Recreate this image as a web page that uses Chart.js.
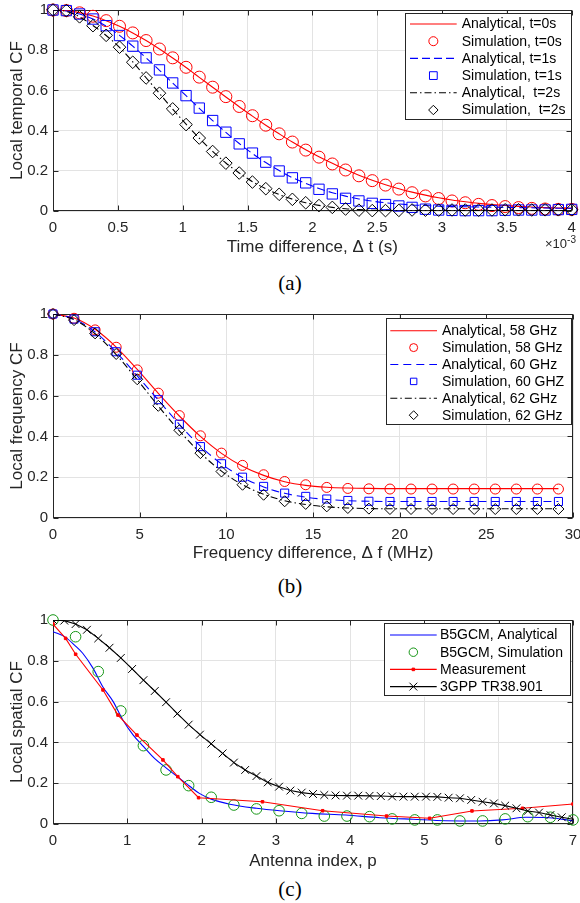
<!DOCTYPE html>
<html><head><meta charset="utf-8">
<script src="https://cdn.jsdelivr.net/npm/chart.js@4.4.1/dist/chart.umd.min.js"></script>
<style>
html,body{margin:0;padding:0;background:#fff;width:580px;height:903px;overflow:hidden;position:relative;}
canvas{position:absolute;left:0;display:block;}
.cap{position:absolute;left:0;width:580px;height:26px;line-height:26px;text-align:center;font-family:'Liberation Serif','Times New Roman',serif;font-size:21px;color:#000;}
.exp{position:absolute;font-family:'Liberation Sans',Arial,sans-serif;font-size:13px;color:#262626;white-space:nowrap;}
.exp sup{font-size:10px;vertical-align:5px;line-height:0;}
</style></head><body>
<canvas id="cA" width="580" height="262" style="top:0px"></canvas>
<canvas id="cB" width="580" height="269" style="top:300px"></canvas>
<canvas id="cC" width="580" height="275" style="top:600px"></canvas>
<div class="exp" style="left:545px;top:236px">×10<sup>-3</sup></div>
<div class="cap" style="top:270px">(a)</div>
<div class="cap" style="top:573px">(b)</div>
<div class="cap" style="top:876px">(c)</div>
<script>
// ---------- (a) Local temporal CF, x in units of 1e-3 s ----------
const timeX = [0,0.103,0.205,0.308,0.410,0.513,0.615,0.718,0.821,0.923,1.026,1.128,1.231,1.333,1.436,1.538,1.641,1.744,1.846,1.949,2.051,2.154,2.256,2.359,2.462,2.564,2.667,2.769,2.872,2.974,3.077,3.179,3.282,3.385,3.487,3.590,3.692,3.795,3.897,4.0];
const anaT0 = [1.0,0.997,0.987,0.970,0.947,0.919,0.886,0.848,0.806,0.761,0.714,0.665,0.616,0.567,0.519,0.472,0.427,0.384,0.343,0.305,0.270,0.237,0.206,0.178,0.153,0.131,0.111,0.094,0.079,0.066,0.055,0.046,0.038,0.032,0.027,0.023,0.020,0.017,0.015,0.014];
const simT0 = [1.0,0.997,0.986,0.969,0.947,0.919,0.886,0.848,0.806,0.762,0.715,0.666,0.616,0.569,0.520,0.474,0.427,0.384,0.343,0.303,0.268,0.234,0.204,0.175,0.151,0.129,0.109,0.091,0.075,0.062,0.050,0.041,0.033,0.027,0.022,0.017,0.013,0.010,0.008,0.008];
const anaT1 = [1.0,0.995,0.980,0.955,0.920,0.874,0.820,0.762,0.700,0.637,0.574,0.511,0.450,0.391,0.336,0.286,0.241,0.201,0.166,0.137,0.112,0.091,0.074,0.060,0.049,0.041,0.035,0.030,0.027,0.024,0.022,0.021,0.020,0.019,0.018,0.017,0.016,0.015,0.014,0.013];
const simT1 = [1.0,0.997,0.980,0.955,0.922,0.873,0.820,0.762,0.702,0.637,0.574,0.512,0.450,0.392,0.334,0.288,0.243,0.199,0.165,0.140,0.108,0.085,0.063,0.050,0.038,0.032,0.025,0.018,0.009,0.005,0.003,0.002,0.002,0.002,0.004,0.005,0.005,0.005,0.007,0.008];
const anaT2 = [1.0,0.993,0.966,0.923,0.873,0.814,0.742,0.663,0.585,0.507,0.432,0.362,0.297,0.239,0.189,0.146,0.111,0.082,0.059,0.041,0.028,0.018,0.011,0.007,0.004,0.003,0.002,0.002,0.002,0.002,0.002,0.002,0.002,0.002,0.002,0.002,0.002,0.002,0.002,0.002];
const simT2 = [1.0,0.997,0.966,0.922,0.874,0.815,0.740,0.662,0.586,0.508,0.430,0.363,0.296,0.238,0.189,0.144,0.111,0.083,0.058,0.041,0.027,0.018,0.010,0.004,0.002,0.002,0.003,0.005,0.004,0.004,0.005,0.005,0.004,0.005,0.006,0.006,0.005,0.006,0.006,0.006];
const labelsA = ['Analytical, t=0s','Simulation, t=0s','Analytical, t=1s','Simulation, t=1s','Analytical,  t=2s','Simulation,  t=2s'];

// ---------- (b) Local frequency CF, x in MHz ----------
const freqX = [0,1.215,2.43,3.645,4.86,6.075,7.29,8.505,9.72,10.935,12.15,13.365,14.58,15.795,17.01,18.225,19.44,20.655,21.87,23.085,24.3,25.515,26.73,27.945,29.16];
const ana58 = [1.0,0.980,0.925,0.838,0.728,0.611,0.500,0.400,0.317,0.254,0.209,0.178,0.160,0.151,0.147,0.145,0.144,0.144,0.144,0.144,0.144,0.144,0.144,0.144,0.144];
const sim58 = [1.0,0.979,0.922,0.837,0.726,0.612,0.502,0.403,0.318,0.258,0.212,0.179,0.163,0.150,0.145,0.143,0.142,0.142,0.142,0.142,0.142,0.142,0.142,0.142,0.142];
const ana60 = [1.0,0.976,0.912,0.813,0.697,0.578,0.459,0.352,0.265,0.199,0.152,0.121,0.102,0.091,0.085,0.082,0.081,0.081,0.081,0.081,0.081,0.081,0.081,0.081,0.081];
const sim60 = [1.0,0.975,0.913,0.815,0.700,0.580,0.460,0.350,0.266,0.200,0.155,0.122,0.106,0.093,0.086,0.082,0.081,0.081,0.081,0.081,0.081,0.081,0.081,0.081,0.081];
const ana62 = [1.0,0.972,0.903,0.801,0.678,0.549,0.427,0.319,0.230,0.163,0.116,0.085,0.066,0.055,0.049,0.046,0.045,0.045,0.045,0.045,0.045,0.045,0.045,0.045,0.045];
const sim62 = [1.0,0.970,0.905,0.804,0.680,0.550,0.430,0.318,0.228,0.163,0.114,0.082,0.069,0.057,0.049,0.046,0.044,0.044,0.044,0.044,0.044,0.044,0.044,0.044,0.044];
const labelsB = ['Analytical, 58 GHz','Simulation, 58 GHz','Analytical, 60 GHz','Simulation, 60 GHZ','Analytical, 62 GHz','Simulation, 62 GHz'];

// ---------- (c) Local spatial CF, x = antenna index p ----------
const anaCX = [0,0.17,0.29,0.40,0.54,0.67,0.81,0.94,1.08,1.22,1.37,1.53,1.71,1.84,1.97,2.13,2.38,2.74,3.05,3.49,3.94,4.40,4.85,5.29,5.74,6.05,6.37,6.68,7.0];
const anaCY = [0.943,0.915,0.877,0.837,0.763,0.673,0.600,0.510,0.436,0.379,0.320,0.273,0.222,0.185,0.150,0.122,0.097,0.077,0.065,0.052,0.044,0.031,0.023,0.016,0.015,0.020,0.033,0.031,0.016];
const simCX = [0,0.304,0.609,0.913,1.217,1.522,1.826,2.130,2.435,2.739,3.043,3.348,3.652,3.957,4.261,4.565,4.870,5.174,5.478,5.783,6.087,6.391,6.696,7.0];
const simCY = [1.0,0.918,0.747,0.554,0.384,0.265,0.188,0.131,0.093,0.074,0.065,0.052,0.039,0.039,0.036,0.025,0.020,0.020,0.015,0.015,0.025,0.036,0.033,0.020];
const measX = [0,0.17,0.305,0.673,0.875,1.13,1.48,1.68,1.96,2.82,3.63,4.49,5.07,5.64,6.32,7.0];
const measY = [0.98,0.91,0.832,0.657,0.534,0.436,0.314,0.232,0.129,0.109,0.065,0.039,0.028,0.064,0.077,0.098];
const gppX = [0,0.152,0.304,0.457,0.609,0.761,0.913,1.065,1.217,1.370,1.522,1.674,1.826,1.978,2.130,2.283,2.435,2.587,2.739,2.891,3.043,3.196,3.348,3.500,3.652,3.804,3.957,4.109,4.261,4.413,4.565,4.717,4.870,5.022,5.174,5.326,5.478,5.630,5.783,5.935,6.087,6.239,6.391,6.543,6.696,6.848,7.0];
const gppY = [1.0,0.997,0.98,0.952,0.91,0.864,0.814,0.76,0.705,0.652,0.597,0.541,0.487,0.438,0.393,0.346,0.301,0.265,0.235,0.204,0.183,0.164,0.154,0.147,0.142,0.14,0.139,0.139,0.138,0.137,0.135,0.134,0.134,0.134,0.133,0.129,0.126,0.118,0.109,0.101,0.09,0.077,0.064,0.056,0.044,0.033,0.023];
const labelsC = ['B5GCM, Analytical','B5GCM, Simulation','Measurement','3GPP TR38.901'];

// tick settings
const ticksA = {min:0, max:4, step:0.5};
const ticksB = {min:0, max:30, step:5};
const ticksC = {min:0, max:7, step:1};
const ticksY = {min:0, max:1, step:0.2};

// ---------- helpers ----------
const FONT = "'Liberation Sans', Arial, Helvetica, sans-serif";
const AX = '#262626';
Chart.defaults.font.family = FONT;
Chart.defaults.color = AX;

const pts = (xs, ys) => xs.map((x, i) => ({x, y: ys[i]}));
const fmt = v => String(Math.round(v * 1000) / 1000);

function lineDS(label, xs, ys, color, dash, extra) {
  return Object.assign({label, data: pts(xs, ys), borderColor: color, backgroundColor: color,
    borderWidth: 1.1, borderDash: dash, pointRadius: 0, fill: false, showLine: true,
    cubicInterpolationMode: 'monotone'}, extra || {});
}
function markDS(label, xs, ys, color, style, r, extra) {
  return Object.assign({label, data: pts(xs, ys), borderColor: color, backgroundColor: 'rgba(0,0,0,0)',
    pointStyle: style, pointRadius: r, pointBorderColor: color, pointBackgroundColor: 'rgba(0,0,0,0)',
    pointBorderWidth: 1, showLine: false, clip: false}, extra || {});
}

function drawMarker(ctx, style, x, y, r, stroke, fill) {
  ctx.save();
  ctx.strokeStyle = stroke; ctx.fillStyle = fill || 'rgba(0,0,0,0)'; ctx.lineWidth = 1; ctx.setLineDash([]);
  ctx.beginPath();
  if (style === 'circle') { ctx.arc(x, y, r, 0, Math.PI*2); }
  else if (style === 'rect') { const s = r*Math.SQRT1_2; ctx.rect(x-s, y-s, 2*s, 2*s); }
  else if (style === 'rectRot') { ctx.moveTo(x-r, y); ctx.lineTo(x, y-r); ctx.lineTo(x+r, y); ctx.lineTo(x, y+r); ctx.closePath(); }
  else if (style === 'crossRot') { const s = r*Math.SQRT1_2; ctx.moveTo(x-s, y-s); ctx.lineTo(x+s, y+s); ctx.moveTo(x-s, y+s); ctx.lineTo(x+s, y-s); }
  if (style !== 'crossRot') ctx.fill();
  ctx.stroke();
  ctx.restore();
}

const boxPlugin = {
  id: 'mbox',
  beforeDatasetsDraw(chart) {
    const {ctx, chartArea: a, scales} = chart;
    const L = Math.round(a.left) + 0.5, R = Math.round(a.right) - 0.5;
    const T = Math.round(a.top) + 0.5, B = Math.round(a.bottom) - 0.5;
    const tl = 5;
    ctx.save();
    ctx.strokeStyle = AX; ctx.lineWidth = 1; ctx.setLineDash([]);
    ctx.beginPath();
    scales.x.ticks.forEach(t => {
      const x = Math.round(scales.x.getPixelForValue(t.value)) + 0.5;
      ctx.moveTo(x, B); ctx.lineTo(x, B - tl);
      ctx.moveTo(x, T); ctx.lineTo(x, T + tl);
    });
    scales.y.ticks.forEach(t => {
      const y = Math.round(scales.y.getPixelForValue(t.value)) + 0.5;
      ctx.moveTo(L, y); ctx.lineTo(L + tl, y);
      ctx.moveTo(R, y); ctx.lineTo(R - tl, y);
    });
    ctx.stroke();
    ctx.strokeRect(L, T, R - L, B - T);
    ctx.restore();
  }
};

const legendPlugin = {
  id: 'mlegend',
  afterDraw(chart, args, o) {
    if (!o || !o.w) return;
    const {ctx} = chart;
    const ds = chart.data.datasets;
    ctx.save();
    ctx.fillStyle = '#fff';
    ctx.fillRect(o.x, o.y, o.w, o.h);
    ctx.strokeStyle = AX; ctx.lineWidth = 1; ctx.setLineDash([]);
    ctx.strokeRect(Math.round(o.x) + 0.5, Math.round(o.y) + 0.5, Math.round(o.w) - 1, Math.round(o.h) - 1);
    ds.forEach((d, i) => {
      const cy = o.y + o.first + o.row * i;
      const x0 = o.x + o.l0, x1 = o.x + o.l1;
      if (d.showLine !== false) {
        ctx.beginPath();
        ctx.setLineDash(d.borderDash || []);
        ctx.strokeStyle = d.borderColor; ctx.lineWidth = d.borderWidth;
        ctx.moveTo(x0, cy); ctx.lineTo(x1, cy); ctx.stroke();
        ctx.setLineDash([]);
      }
      if (d.pointRadius > 0) {
        const r = d.legendRadius || d.pointRadius * o.ms;
        drawMarker(ctx, d.pointStyle, (x0 + x1) / 2, cy, r, d.pointBorderColor, d.pointBackgroundColor);
      }
      ctx.fillStyle = '#000';
      ctx.font = o.font + 'px ' + FONT;
      ctx.textBaseline = 'middle'; ctx.textAlign = 'left';
      ctx.fillText(d.label, o.x + o.tx, cy + 0.5);
    });
    ctx.restore();
  }
};

function makeChart(id, datasets, xt, xTitle, yTitle, top, titlePb, legend) {
  datasets.forEach((d, i) => { d.order = datasets.length - i; });
  return new Chart(document.getElementById(id), {
    type: 'line',
    data: {datasets},
    options: {
      responsive: false, animation: false, devicePixelRatio: 1,
      layout: {padding: {top: top, right: 7, left: 0, bottom: 0}},
      plugins: {legend: {display: false}, tooltip: {enabled: false}, mlegend: legend},
      elements: {line: {tension: 0}},
      scales: {
        x: {
          type: 'linear', min: xt.min, max: xt.max,
          ticks: {stepSize: xt.step, color: AX, font: {size: 15}, padding: 8, maxRotation: 0, autoSkip: false, callback: fmt},
          grid: {color: '#e3e3e3', lineWidth: 1, drawTicks: false},
          border: {display: false},
          title: {display: true, text: xTitle, color: AX, font: {size: 17}, padding: {top: 0, bottom: titlePb}},
          afterFit: s => { s.height = 51; s.paddingLeft = 0; s.paddingRight = 0; }
        },
        y: {
          type: 'linear', min: ticksY.min, max: ticksY.max,
          ticks: {stepSize: ticksY.step, color: AX, font: {size: 15}, padding: 5, callback: fmt},
          grid: {color: '#e3e3e3', lineWidth: 1, drawTicks: false},
          border: {display: false},
          title: {display: true, text: yTitle, color: AX, font: {size: 17}, padding: {top: 7, bottom: 0}},
          afterFit: s => { s.width = 53; s.paddingTop = 0; s.paddingBottom = 0; }
        }
      }
    },
    plugins: [boxPlugin, legendPlugin]
  });
}

const RED = '#ff0000', BLUE = '#0000ff', BLACK = '#000000', GREEN = '#169616';
const DASHDOT = [7, 3, 1.5, 3];

makeChart('cA', [
  lineDS(labelsA[0], timeX, anaT0, RED, []),
  markDS(labelsA[1], timeX, simT0, RED, 'circle', 6),
  lineDS(labelsA[2], timeX, anaT1, BLUE, [8, 4]),
  markDS(labelsA[3], timeX, simT1, BLUE, 'rect', 7.3),
  lineDS(labelsA[4], timeX, anaT2, BLACK, DASHDOT),
  markDS(labelsA[5], timeX, simT2, BLACK, 'rectRot', 6.3)
], ticksA, 'Time difference, \u0394 t (s)', 'Local temporal CF', 10, 4.2,
{x: 405, y: 13, w: 167, h: 107, first: 11, row: 17.2, l0: 5, l1: 51.7, tx: 56.7, font: 14, ms: 0.75});

makeChart('cB', [
  lineDS(labelsB[0], freqX, ana58, RED, []),
  markDS(labelsB[1], freqX, sim58, RED, 'circle', 5),
  lineDS(labelsB[2], freqX, ana60, BLUE, [8, 5]),
  markDS(labelsB[3], freqX, sim60, BLUE, 'rect', 5.7),
  lineDS(labelsB[4], freqX, ana62, BLACK, DASHDOT),
  markDS(labelsB[5], freqX, sim62, BLACK, 'rectRot', 5.5)
], ticksB, 'Frequency difference, \u0394 f (MHz)', 'Local frequency CF', 14, 5.2,
{x: 386, y: 18.3, w: 186, h: 107, first: 12.4, row: 16.9, l0: 4.3, l1: 51, tx: 56, font: 14, ms: 0.8});

makeChart('cC', [
  lineDS(labelsC[0], anaCX, anaCY, BLUE, []),
  markDS(labelsC[1], simCX, simCY, GREEN, 'circle', 5.3),
  lineDS(labelsC[2], measX, measY, RED, [], {cubicInterpolationMode: 'default', tension: 0, pointRadius: 1.8, pointStyle: 'rect', pointBorderColor: RED, pointBackgroundColor: RED, pointBorderWidth: 1, legendRadius: 1.8}),
  lineDS(labelsC[3], gppX, gppY, BLACK, [], {cubicInterpolationMode: 'default', tension: 0, pointRadius: 5.5, pointStyle: 'crossRot', pointBorderColor: BLACK, pointBorderWidth: 1, legendRadius: 5.5})
], ticksC, 'Antenna index, p', 'Local spatial CF', 20, 3.4,
{x: 384.3, y: 23.3, w: 187.4, h: 73.4, first: 11.7, row: 17.2, l0: 5.7, l1: 52.4, tx: 55.7, font: 14, ms: 0.8});
</script>
</body></html>
